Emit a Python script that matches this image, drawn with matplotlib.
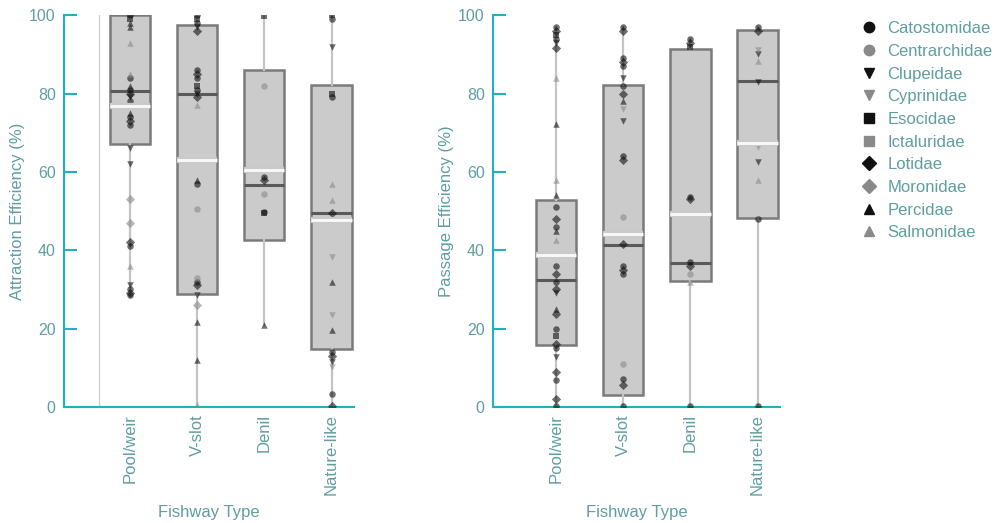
import numpy as np
import matplotlib
matplotlib.use("Agg")
import matplotlib.pyplot as plt
import matplotlib.patheffects as pe
from matplotlib.lines import Line2D

plt.rcParams["font.family"] = ["Liberation Sans", "DejaVu Sans"]

TEXT_COLOR = "#5f9ea0"
AXIS_COLOR = "#1fb2bc"

FISHWAYS = ["Pool/weir", "V-slot", "Denil", "Nature-like"]
FAMILIES = ["Catostomidae", "Centrarchidae", "Clupeidae", "Cyprinidae", "Esocidae",
            "Ictaluridae", "Lotidae", "Moronidae", "Percidae", "Salmonidae"]
FAM_MARKERS = ["o", "o", "v", "v", "s", "s", "D", "D", "^", "^"]
FAM_COLORS = ["#111111", "#8a8a8a"] * 5

# ---- Attraction efficiency: box stats ----
ATT_Q1 = [67.2, 28.7, 42.5, 14.9]
ATT_MED = [80.7, 80.0, 56.7, 49.6]
ATT_Q3 = [100.0, 97.4, 86.0, 82.3]
ATT_MEAN = [76.7, 63.1, 60.4, 47.6]
ATT_LO = [28.5, 0.0, 20.8, 0.0]
ATT_HI = [100.0, 100.0, 99.7, 100.0]

# ---- Attraction efficiency: individual studies (value, family index) ----
ATT_VALUES = [
    [100, 99, 98, 97, 93, 85, 84, 82, 81, 80, 79, 78, 75, 74, 73, 72, 66, 62, 53, 47, 42, 41, 36, 31, 30, 29, 28.5],
    [100, 99, 98, 97, 96, 86, 85, 84, 82, 81, 80, 79, 77, 58, 57, 50.6, 33, 32, 31, 28.5, 26, 21.7, 12, 0.5],
    [99.7, 81.8, 58.8, 58, 54.4, 49.7, 49.5, 20.8],
    [100, 99, 91.8, 80, 79, 57, 52.7, 49.6, 38.3, 31.9, 23.4, 19.6, 14, 13, 11.5, 10.2, 3.4, 0.3],
]
ATT_FAMILY = [
    [0, 4, 8, 8, 9, 9, 0, 8, 0, 6, 2, 0, 8, 0, 6, 0, 2, 2, 7, 7, 6, 0, 9, 2, 0, 6, 0],
    [0, 4, 0, 2, 6, 0, 6, 0, 4, 0, 2, 6, 9, 8, 0, 1, 1, 0, 6, 2, 7, 8, 8, 9],
    [4, 1, 0, 6, 1, 0, 4, 8],
    [4, 0, 2, 4, 0, 9, 9, 6, 3, 8, 3, 8, 0, 6, 2, 3, 0, 6],
]

# ---- Passage efficiency: box stats ----
PAS_Q1 = [15.7, 3.1, 32.1, 48.3]
PAS_MED = [32.3, 41.4, 36.8, 83.1]
PAS_Q3 = [52.9, 82.3, 91.4, 96.3]
PAS_MEAN = [38.9, 44.2, 49.3, 67.4]
PAS_LO = [0.0, 0.0, 0.0, 0.0]
PAS_HI = [97.0, 97.0, 94.0, 97.0]

PAS_VALUES = [
    [97, 96, 95, 94, 93, 91.5, 84, 72.3, 57.8, 54, 51, 48, 46, 45, 42.5, 36, 34, 32, 30, 29, 25, 23.8, 20, 18, 16, 15, 12.8, 9, 6.8, 2, 0.3],
    [97, 96, 89, 88, 87, 84, 82, 80, 78, 76, 73, 64, 63, 48.5, 41.5, 36, 35, 34, 11, 7, 5.5, 0.3],
    [94, 93, 92, 53.5, 53, 37, 36, 34, 32, 0.3],
    [97, 96, 91, 90, 88.4, 83, 66.3, 62.6, 57.8, 48, 0.3],
]
PAS_FAMILY = [
    [0, 6, 4, 0, 2, 6, 9, 8, 9, 8, 0, 6, 0, 8, 9, 0, 6, 0, 6, 2, 8, 6, 0, 4, 6, 0, 2, 6, 0, 6, 0],
    [0, 6, 0, 6, 0, 2, 0, 6, 8, 3, 2, 0, 6, 1, 6, 0, 6, 0, 1, 0, 6, 0],
    [0, 6, 4, 0, 6, 0, 6, 1, 9, 0],
    [0, 6, 3, 2, 9, 2, 3, 2, 9, 0, 0],
]


def draw_panel(ax, q1, med, q3, mean, lo, hi, values, family, ylabel, xlim):
    positions = np.arange(1, len(FISHWAYS) + 1)
    stats = []
    for i in range(len(FISHWAYS)):
        stats.append(dict(q1=q1[i], med=med[i], q3=q3[i], mean=mean[i],
                          whislo=lo[i], whishi=hi[i], fliers=[]))
    bp = ax.bxp(stats, positions=positions, widths=0.6, patch_artist=True,
                showmeans=True, meanline=True, showcaps=False, showfliers=False,
                boxprops=dict(facecolor="#cbcbcb", edgecolor="#7a7a7a", linewidth=1.8),
                medianprops=dict(color="#5a5a5a", linewidth=2.2),
                meanprops=dict(color="#f7f7f7", linewidth=2.2, linestyle="-"),
                whiskerprops=dict(color="#c4c4c4", linewidth=1.6))
    for line in bp["means"]:
        line.set_path_effects([pe.Stroke(linewidth=4.5, foreground="#c9c9c9"), pe.Normal()])
        line.set_zorder(4)
    for box in bp["boxes"]:
        box.set_zorder(1)

    for i, pos in enumerate(positions):
        vals = np.array(values[i])
        fams = np.array(family[i])
        for f in np.unique(fams):
            sel = fams == f
            ax.scatter(np.full(sel.sum(), pos), vals[sel], marker=FAM_MARKERS[f],
                       s=22, color=FAM_COLORS[f], alpha=0.6, linewidths=0, zorder=3)

    ax.set_xlim(*xlim)
    ax.set_ylim(0, 100)
    ax.set_yticks([0, 20, 40, 60, 80, 100])
    ax.set_xticks(positions)
    ax.set_xticklabels(FISHWAYS, rotation=90)
    ax.tick_params(axis="x", length=0, labelsize=12, labelcolor=TEXT_COLOR, pad=5)
    ax.tick_params(axis="y", direction="in", length=9, width=1.5, color=AXIS_COLOR,
                   labelsize=11.5, labelcolor=TEXT_COLOR, pad=6)
    for side in ["top", "right"]:
        ax.spines[side].set_visible(False)
    for side in ["left", "bottom"]:
        ax.spines[side].set_color(AXIS_COLOR)
        ax.spines[side].set_linewidth(1.5)
    ax.set_ylabel(ylabel, color=TEXT_COLOR, fontsize=12, labelpad=3)
    ax.set_xlabel("Fishway Type", color=TEXT_COLOR, fontsize=12)
    ax.xaxis.set_label_coords(0.5, -0.27)
    ax.xaxis.label.set_va("center")


fig = plt.figure(figsize=(10.01, 5.23), dpi=100)
ax1 = fig.add_axes([0.064, 0.222, 0.290, 0.749])
ax2 = fig.add_axes([0.4925, 0.222, 0.2865, 0.749])

draw_panel(ax1, ATT_Q1, ATT_MED, ATT_Q3, ATT_MEAN, ATT_LO, ATT_HI, ATT_VALUES, ATT_FAMILY,
           "Attraction Efficiency (%)", (0.02, 4.34))
ax1.axvline(0.54, color="#cfcfcf", linewidth=0.9, zorder=0)
draw_panel(ax2, PAS_Q1, PAS_MED, PAS_Q3, PAS_MEAN, PAS_LO, PAS_HI, PAS_VALUES, PAS_FAMILY,
           "Passage Efficiency (%)", (0.06, 4.33))

handles = [Line2D([], [], linestyle="none", marker=FAM_MARKERS[i], color=FAM_COLORS[i],
                  markersize=7.5, label=FAMILIES[i]) for i in range(len(FAMILIES))]
leg = fig.legend(handles=handles, loc="upper left", bbox_to_anchor=(0.855, 0.972),
                 frameon=False, fontsize=12, handlelength=0.8, handletextpad=0.7,
                 labelspacing=0.46, borderaxespad=0)
for t in leg.get_texts():
    t.set_color(TEXT_COLOR)

fig.savefig("out.png", dpi=100)
